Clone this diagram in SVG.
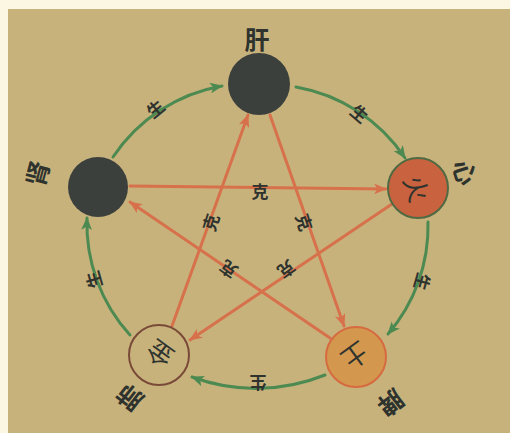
<svg xmlns="http://www.w3.org/2000/svg" width="510" height="433" viewBox="0 0 510 433">
<defs>
<style>
.lbl{font-family:"Noto Sans CJK SC","Noto Sans CJK TC",sans-serif;fill:#2e332e;text-anchor:middle;dominant-baseline:central}
.big{font-size:25px;font-weight:bold}
.sm{font-size:17px;font-weight:bold}
.in{font-size:26px}
.g{fill:none;stroke:#4d8a52;stroke-width:3;stroke-linecap:round}
.r{fill:none;stroke:#d7714b;stroke-width:3;stroke-linecap:round}
</style>
<marker id="ag" viewBox="0 0 12 10" refX="11" refY="5" markerWidth="13" markerHeight="11" markerUnits="userSpaceOnUse" orient="auto">
<path d="M0,0 L12,5 L0,10 L3,5 z" fill="#4d8a52"/>
</marker>
<marker id="ar" viewBox="0 0 12 10" refX="11" refY="5" markerWidth="13" markerHeight="11" markerUnits="userSpaceOnUse" orient="auto">
<path d="M0,0 L12,5 L0,10 L3,5 z" fill="#d7714b"/>
</marker>
</defs>
<rect x="0" y="0" width="510" height="433" fill="#fbf7e3"/>
<rect x="8" y="9" width="502" height="424" fill="#c8b27c"/>
<g id="connectors">
<path class="g" d="M113,157 A165,165 0 0 1 222,86" marker-end="url(#ag)"/>
<path class="g" d="M296,87 A165,165 0 0 1 405,158" marker-end="url(#ag)"/>
<path class="g" d="M428,222 A165,165 0 0 1 388,334" marker-end="url(#ag)"/>
<path class="g" d="M325,375 A185,185 0 0 1 192,377" marker-end="url(#ag)"/>
<path class="g" d="M130,335 A165,165 0 0 1 87,218" marker-end="url(#ag)"/>
<line class="r" x1="130" y1="186" x2="386" y2="189" marker-end="url(#ar)"/>
<line class="r" x1="270" y1="115" x2="344" y2="326" marker-end="url(#ar)"/>
<line class="r" x1="330" y1="338" x2="130" y2="202" marker-end="url(#ar)"/>
<line class="r" x1="392" y1="204" x2="190" y2="340" marker-end="url(#ar)"/>
<line class="r" x1="172" y1="326" x2="248" y2="115" marker-end="url(#ar)"/>
<text class="lbl sm" transform="translate(155,108) rotate(-39)">生</text>
<text class="lbl sm" transform="translate(360,113) rotate(40)">生</text>
<text class="lbl sm" transform="translate(423,282) rotate(106)">生</text>
<text class="lbl sm" transform="translate(258,383) rotate(180)">生</text>
<text class="lbl sm" transform="translate(93,280) rotate(-106)">生</text>
<text class="lbl sm" transform="translate(260,190)">克</text>
<text class="lbl sm" transform="translate(305,222) rotate(72)">克</text>
<text class="lbl sm" transform="translate(287,270) rotate(144)">克</text>
<text class="lbl sm" transform="translate(228,270) rotate(-144)">克</text>
<text class="lbl sm" transform="translate(210,222) rotate(-72)">克</text>
</g>
<g id="gan">
<circle cx="259" cy="84" r="31" fill="#3b403d"/>
<text class="lbl big" transform="translate(257,38)">肝</text>
</g>
<g id="xin">
<circle cx="418" cy="188" r="30" fill="#c9623e" stroke="#4f6a42" stroke-width="2"/>
<text class="lbl in" transform="translate(418,188) rotate(72)">火</text>
<text class="lbl big" transform="translate(466,172) rotate(72)">心</text>
</g>
<g id="pi">
<circle cx="356" cy="357" r="30" fill="#d4974e" stroke="#d66a40" stroke-width="2"/>
<text class="lbl in" transform="translate(356,357) rotate(144)">土</text>
<text class="lbl big" transform="translate(392,404) rotate(142)">脾</text>
</g>
<g id="fei">
<circle cx="159" cy="355" r="30" fill="#c8b27c" stroke="#7a4a38" stroke-width="2"/>
<text class="lbl in" transform="translate(159,355) rotate(-144)">金</text>
<text class="lbl big" transform="translate(129,399) rotate(-142)">肺</text>
</g>
<g id="shen">
<circle cx="98" cy="187" r="30" fill="#3b403d"/>
<text class="lbl big" transform="translate(36,173) rotate(-75)">肾</text>
</g>
</svg>
